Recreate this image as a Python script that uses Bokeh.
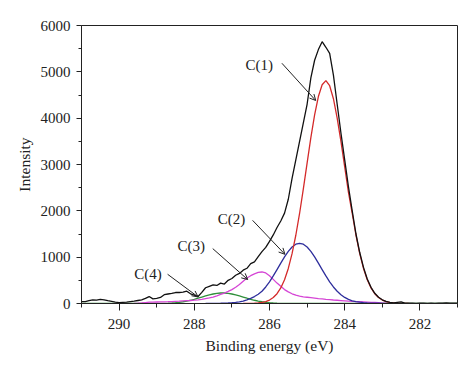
from bokeh.plotting import figure
from bokeh.models import Range1d, FixedTicker, Arrow, OpenHead
from bokeh.core.properties import value
from bokeh.embed import file_html
from bokeh.resources import INLINE

# ---------------- data ----------------
energy = [
    291.0, 290.9, 290.8, 290.7, 290.6, 290.5, 290.4, 290.3, 290.2, 290.1,
    290.0, 289.9, 289.8, 289.7, 289.6, 289.5, 289.4, 289.3, 289.2, 289.1,
    289.0, 288.9, 288.8, 288.7, 288.6, 288.5, 288.4, 288.3, 288.2, 288.1,
    288.0, 287.9, 287.8, 287.7, 287.6, 287.5, 287.4, 287.3, 287.2, 287.1,
    287.0, 286.9, 286.8, 286.7, 286.6, 286.5, 286.4, 286.3, 286.2, 286.1,
    286.0, 285.9, 285.8, 285.7, 285.6, 285.5, 285.4, 285.3, 285.2, 285.1,
    285.0, 284.9, 284.8, 284.7, 284.6, 284.5, 284.4, 284.3, 284.2, 284.1,
    284.0, 283.9, 283.8, 283.7, 283.6, 283.5, 283.4, 283.3, 283.2, 283.1,
    283.0, 282.9, 282.8, 282.7, 282.6, 282.5, 282.4, 282.3, 282.2, 282.1,
    282.0, 281.9, 281.8, 281.7, 281.6, 281.5, 281.4, 281.3, 281.2, 281.1,
    281.0,
]

measured = [
    40, 40, 60, 80, 75, 90, 80, 60, 45, 30,
    20, 25, 30, 40, 50, 65, 80, 110, 150, 100,
    110, 130, 190, 205, 220, 237, 237, 245, 265, 210,
    180, 150, 240, 340, 370, 400, 390, 440, 420, 500,
    540, 610, 650, 720, 760, 860, 900, 1010, 1120, 1210,
    1340, 1480, 1640, 1780, 1950, 2250, 2700, 3100, 3500, 3900,
    4300, 4870, 5250, 5480, 5650, 5530, 5400, 4930, 4300, 3680,
    3100, 2520, 2000, 1500, 1100, 780, 530, 350, 220, 135,
    80, 45, 25, 15, 25, 35, 10, 5, 8, 3,
    10, 5, 0, 8, 3, 10, 5, 12, 5, 10,
    8,
]

c1 = [
    0, 0, 0, 0, 0, 0, 0, 0, 0, 0,
    0, 0, 0, 0, 0, 0, 0, 0, 0, 0,
    0, 0, 0, 0, 0, 0, 0, 0, 0, 0,
    0, 0, 0, 0, 0, 0, 0, 0, 0, 0,
    0, 0, 0, 0, 1, 3, 6, 12, 23, 42,
    75, 128, 211, 336, 513, 757, 1076, 1473, 1943, 2473,
    3029, 3578, 4073, 4467, 4722, 4810, 4700, 4420, 4000, 3500,
    2950, 2400, 1943, 1473, 1076, 757, 513, 336, 211, 128,
    75, 42, 23, 12, 6, 3, 1, 0, 0, 0,
    0, 0, 0, 0, 0, 0, 0, 0, 0, 0,
    0,
]

c2 = [
    0, 0, 0, 0, 0, 0, 0, 0, 0, 0,
    0, 0, 0, 0, 0, 0, 0, 0, 0, 0,
    0, 0, 0, 0, 0, 0, 0, 0, 0, 0,
    0, 0, 0, 0, 1, 2, 3, 5, 8, 12,
    17, 25, 36, 52, 78, 110, 150, 200, 264, 357,
    468, 595, 732, 872, 1007, 1126, 1220, 1279, 1300, 1279,
    1220, 1126, 1007, 872, 732, 595, 468, 357, 264, 189,
    131, 88, 57, 40, 28, 20, 14, 10, 7, 5,
    3, 2, 1, 0, 0, 0, 0, 0, 0, 0,
    0, 0, 0, 0, 0, 0, 0, 0, 0, 0,
    0,
]

c3 = [
    0, 0, 0, 0, 0, 0, 0, 0, 0, 0,
    0, 0, 0, 0, 0, 5, 12, 20, 28, 30,
    32, 34, 37, 39, 42, 46, 50, 55, 60, 65,
    72, 80, 90, 105, 120, 140, 165, 195, 225, 260,
    300, 350, 410, 480, 550, 600, 640, 670, 680, 660,
    600, 520, 440, 370, 300, 250, 210, 180, 160, 145,
    135, 125, 115, 105, 98, 90, 83, 76, 70, 64,
    58, 52, 47, 42, 38, 34, 30, 26, 22, 16,
    10, 4, 0, 0, 0, 0, 0, 0, 0, 0,
    0, 0, 0, 0, 0, 0, 0, 0, 0, 0,
    0,
]

c4 = [
    0, 0, 0, 0, 0, 0, 0, 0, 0, 0,
    0, 0, 0, 0, 0, 0, 0, 0, 0, 0,
    1, 2, 4, 7, 12, 18, 26, 38, 52, 70,
    90, 114, 139, 163, 186, 205, 219, 227, 227, 219,
    205, 186, 163, 139, 114, 90, 70, 52, 38, 26,
    18, 12, 7, 4, 2, 1, 0, 0, 0, 0,
    0, 0, 0, 0, 0, 0, 0, 0, 0, 0,
    0, 0, 0, 0, 0, 0, 0, 0, 0, 0,
    0, 0, 0, 0, 0, 0, 0, 0, 0, 0,
    0, 0, 0, 0, 0, 0, 0, 0, 0, 0,
    0,
]

x_major = [290, 288, 286, 284, 282]
x_minor = [291, 289, 287, 285, 283, 281]
y_major = [0, 1000, 2000, 3000, 4000, 5000, 6000]
y_minor = [500, 1500, 2500, 3500, 4500, 5500]

label_text = ["C(1)", "C(2)", "C(3)", "C(4)"]
label_x = [286.27, 287.01, 288.08, 289.23]
label_y = [5157, 1832, 1239, 636]
arrow_x0 = [285.67, 286.45, 287.51, 288.71]
arrow_y0 = [5185, 1795, 1185, 631]
arrow_x1 = [284.77, 285.59, 286.58, 287.90]
arrow_y1 = [4381, 1062, 517, 142]

# ---------------- styling ----------------
FONT = "Liberation Serif"
INK = "#222222"

p = figure(width=474, height=375,
           x_range=Range1d(291, 281), y_range=Range1d(0, 6000),
           output_backend="svg", toolbar_location=None,
           min_border_left=81, min_border_right=17,
           min_border_top=25, min_border_bottom=72)
p.xgrid.visible = False
p.ygrid.visible = False
p.outline_line_color = INK
p.outline_line_width = 1
p.background_fill_color = "white"
p.border_fill_color = "white"


def span(vals):
    idx = [i for i, v in enumerate(vals) if v > 0]
    lo = max(idx[0] - 1, 0)
    hi = min(idx[-1] + 1, len(vals) - 1)
    return lo, hi + 1


comp = [(c4, "#2f8f3a", True), (c3, "#d545d5", False),
        (c2, "#2e2e9c", False), (c1, "#d42a2a", False)]
for vals, col, full in comp:
    if full:
        lo, hi = 0, len(vals)
    else:
        lo, hi = span(vals)
    p.line(energy[lo:hi], vals[lo:hi], line_color=col, line_width=1.3)

p.line(energy, measured, line_color="#111111", line_width=1.3)

p.text(x=label_x, y=label_y, text=label_text,
       text_font=value(FONT), text_font_size="15px",
       text_align="center", text_baseline="middle", text_color=INK)

for xs, ys, xe, ye in zip(arrow_x0, arrow_y0, arrow_x1, arrow_y1):
    p.add_layout(Arrow(end=OpenHead(size=6, line_width=1, line_color=INK),
                       x_start=xs, y_start=ys, x_end=xe, y_end=ye,
                       line_width=1, line_color=INK))

p.xaxis.ticker = FixedTicker(ticks=x_major, minor_ticks=x_minor)
p.yaxis.ticker = FixedTicker(ticks=y_major, minor_ticks=y_minor)
p.xaxis.axis_label = "Binding energy (eV)"
p.yaxis.axis_label = "Intensity"

for ax in (p.xaxis, p.yaxis):
    ax.axis_line_color = INK
    ax.major_tick_line_color = INK
    ax.minor_tick_line_color = INK
    ax.major_tick_in = 0
    ax.minor_tick_in = 0
    ax.major_label_text_font = FONT
    ax.major_label_text_font_size = "15px"
    ax.major_label_text_color = INK
    ax.axis_label_text_font = FONT
    ax.axis_label_text_font_size = "15.5px"
    ax.axis_label_text_font_style = "normal"
    ax.axis_label_text_color = INK

p.xaxis.major_tick_out = 7
p.xaxis.minor_tick_out = 4
p.xaxis.major_label_standoff = 8
p.xaxis.axis_label_standoff = 5
p.yaxis.major_tick_out = 5
p.yaxis.minor_tick_out = 3
p.yaxis.major_label_standoff = 6
p.yaxis.axis_label_standoff = 5

open("out.html", "w").write(file_html(p, INLINE))
